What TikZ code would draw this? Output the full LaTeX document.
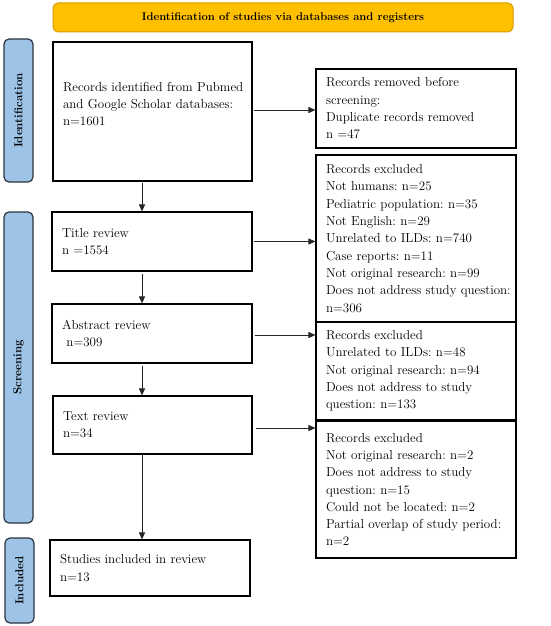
\documentclass[tikz,border=0pt]{standalone}
\usetikzlibrary{arrows.meta,calc}
\definecolor{bannerfill}{HTML}{FFC000}
\definecolor{bannerdraw}{HTML}{D99A00}
\definecolor{sidefill}{HTML}{9DC3E6}
\definecolor{sidedraw}{HTML}{2B3440}
\frenchspacing
\begin{document}
\begin{tikzpicture}[x=1pt,y=-1pt,
  every node/.style={font=\fontsize{13}{17.3}\selectfont},
  box/.style={draw=black,line width=1.1pt,rectangle,inner xsep=10pt,inner ysep=2pt,align=left},
  sidebar/.style={draw=sidedraw,fill=sidefill,line width=1.2pt,rounded corners=5pt},
  sidelabel/.style={rotate=90,font=\bfseries\fontsize{11.5}{13}\selectfont},
  arr/.style={draw=black!85,line width=0.8pt,-{Triangle[length=7pt,width=6pt]}}]
\useasboundingbox (0,0) rectangle (550,626);
% banner
\draw[draw=bannerdraw,fill=bannerfill,line width=1pt,rounded corners=5pt] (53,3) rectangle (513,32);
\node[font=\bfseries\fontsize{11.2}{13}\selectfont] (banner) at (283,17.5) {Identification of studies via databases and registers};
% side bars
\draw[sidebar] (4,39) rectangle (33,182);
\node[sidelabel] (sid) at (18.5,110.5) {Identification};
\draw[sidebar] (4,212) rectangle (33,523);
\node[sidelabel] (sscr) at (18.5,367.5) {Screening};
\draw[sidebar] (5,538) rectangle (34,623);
\node[sidelabel] (sinc) at (19.5,580.5) {Included};
% boxes
\node[box,minimum width=199pt,minimum height=139pt,text width=179pt,text depth=50pt] (id) at (152.5,111.5)
  {\mbox{Records identified from Pubmed}\\\mbox{and Google Scholar databases:}\\n=1601};
\node[box,minimum width=200pt,minimum height=79pt,text width=180pt] (rem) at (416,108.5)
  {Records removed before\\screening:\\Duplicate records removed\\n =47};
\node[box,minimum width=200pt,minimum height=59pt,text width=180pt] (title) at (152,241.5)
  {Title review\\n =1554};
\node[box,minimum width=200pt,minimum height=167pt,text width=180pt] (ex1) at (416,238.5)
  {Records excluded\\Not humans: n=25\\Pediatric population: n=35\\Not English: n=29\\Unrelated to ILDs: n=740\\Case reports: n=11\\Not original research: n=99\\\mbox{Does not address study question:}\\n=306};
\node[box,minimum width=200pt,minimum height=59pt,text width=180pt] (abs) at (152,333.5)
  {Abstract review\\\ n=309};
\node[box,minimum width=200pt,minimum height=98pt,text width=180pt] (ex2) at (416,371)
  {Records excluded\\Unrelated to ILDs: n=48\\Not original research: n=94\\Does not address to study\\question: n=133};
\node[box,minimum width=199pt,minimum height=58pt,text width=179pt] (text) at (152.5,425)
  {Text review\\n=34};
\node[box,minimum width=200pt,minimum height=137pt,text width=180pt] (ex3) at (416,489.5)
  {Records excluded\\Not original research: n=2\\Does not address to study\\question: n=15\\Could not be located: n=2\\\mbox{Partial overlap of study period:}\\n=2};
\node[box,minimum width=200pt,minimum height=56pt,text width=180pt] (incl) at (150,568)
  {Studies included in review\\n=13};
% arrows
\coordinate (vx) at (142,0);
\draw[arr] (id.south -| vx) ++(0,1) -- (title.north -| vx);
\draw[arr] (title.south -| vx) ++(0,2) -- (abs.north -| vx);
\draw[arr] (abs.south -| vx) ++(0,2) -- (text.north -| vx);
\draw[arr] (text.south -| vx) -- (incl.north -| vx);
\draw[arr] (id.east) ++(1,-1.5) coordinate (a1) -- (a1 -| rem.west);
\draw[arr] (title.east) ++(1,0) coordinate (a2) -- (a2 -| ex1.west);
\draw[arr] (abs.east) ++(2,1.5) coordinate (a3) -- (a3 -| ex2.west);
\draw[arr] (text.east) ++(3,3) coordinate (a4) -- (a4 -| ex3.west);
\end{tikzpicture}
\end{document}
